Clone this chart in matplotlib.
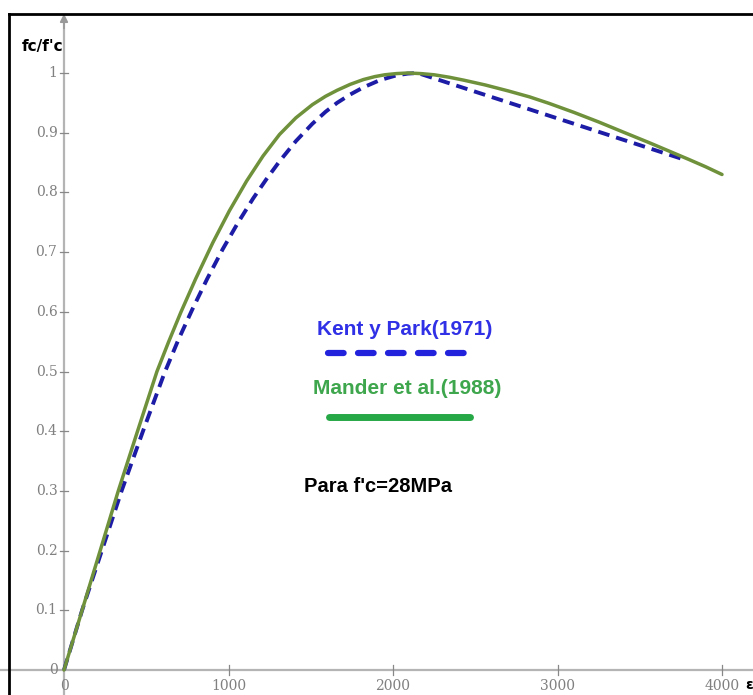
import matplotlib
matplotlib.use("Agg")
import matplotlib.pyplot as plt
from matplotlib.lines import Line2D

# Kent y Park (1971) (microstrain, fc/f'c)
kp_strain = [0, 110, 230, 350, 480, 610, 695, 780, 870, 965, 1055, 1150, 1230, 1310, 1410,
             1510, 1590, 1660, 1740, 1820, 1920, 2020, 2090, 2150, 3770]
kp_stress = [0, 0.10, 0.20, 0.30, 0.40, 0.497, 0.553, 0.604, 0.655, 0.705, 0.748, 0.790, 0.822, 0.852, 0.886,
             0.915, 0.935, 0.950, 0.964, 0.976, 0.988, 0.996, 0.999, 1.0, 0.855]

# Mander et al. (1988)
md_strain = [0, 110, 220, 330, 447, 565, 635, 710, 800, 905, 1005, 1110, 1210, 1310, 1410,
             1510, 1590, 1660, 1740, 1820, 1890, 1950, 2020, 2090, 2170, 2250, 2340, 2430,
             2560, 2700, 2830, 2950, 3100, 3250, 3400, 3560, 3680, 3800, 3900, 4000]
md_stress = [0, 0.10, 0.20, 0.30, 0.40, 0.50, 0.549, 0.599, 0.655, 0.716, 0.769, 0.819, 0.861, 0.897, 0.925,
             0.947, 0.961, 0.971, 0.981, 0.989, 0.994, 0.997, 0.999, 1.0, 0.999, 0.997, 0.993, 0.988,
             0.980, 0.970, 0.960, 0.949, 0.934, 0.918, 0.901, 0.883, 0.869, 0.855, 0.843, 0.830]

x_ticks = [1000, 2000, 3000, 4000]
y_ticks = [0.1, 0.2, 0.3, 0.4, 0.5, 0.6, 0.7, 0.8, 0.9, 1]

W, H = 753, 695
fig = plt.figure(figsize=(W / 100, H / 100), dpi=100)
ax = fig.add_axes([0, 0, 1, 1])
ax.set_xlim(-64 / 164.5 * 1000, (W - 64) / 164.5 * 1000)
ax.set_ylim(-(H - 670) / 597, 670 / 597)
ax.axis("off")

axis_col = "#b4b4b4"
tick_col = "#808080"

# axes lines
ax.axhline(0, color=axis_col, lw=1.6, zorder=1)
ax.plot([0, 0], [-0.05, 1.085], color=axis_col, lw=1.6, zorder=1)
ax.annotate("", xy=(0, 1.104), xytext=(0, 1.07),
            arrowprops=dict(arrowstyle="-|>", color="#999999", lw=1.2, mutation_scale=12))

# tick crosses and labels
for t in x_ticks:
    ax.plot([t, t], [-0.008, 0.008], color="#888888", lw=0.9, zorder=1)
    ax.text(t, -0.026, f"{t}", ha="center", va="center", color=tick_col,
            fontsize=10, family="DejaVu Serif")
for t in y_ticks:
    ax.plot([-25, 25], [t, t], color="#888888", lw=0.9, zorder=1)
    ax.text(-40, t, f"{t:g}", ha="right", va="center", color=tick_col,
            fontsize=10, family="DejaVu Serif")
ax.text(-40, 0.0, "0", ha="right", va="center", color=tick_col, fontsize=10, family="DejaVu Serif")
ax.text(0, -0.026, "0", ha="center", va="center", color=tick_col, fontsize=10, family="DejaVu Serif")

ax.text(-255, 1.045, "fc/f'c", ha="left", va="center", fontsize=11, fontweight="bold",
        family="DejaVu Sans")
fig.text(1.0, 1 - 685 / H, "ε", ha="right", va="center", fontsize=10, fontweight="bold", color="black")

# curves
ax.plot(kp_strain, kp_stress, color="#1c1ca6", lw=2.8, ls=(0, (3, 1.8)), zorder=3)
ax.plot(md_strain, md_stress, color="#6f913b", lw=2.5, zorder=4, solid_capstyle="round")

# legend drawn by hand, as in the original
fig.text(405 / W, 1 - 330 / H, "Kent y Park(1971)", ha="center", va="center",
         color="#3030e6", fontsize=15, fontweight="bold", family="Liberation Sans")
fig.add_artist(Line2D([328 / W, 469 / W], [1 - 353 / H] * 2, color="#2222dd", lw=4.5,
                      ls=(0, (2.5, 2.3)), dash_capstyle="round"))
fig.text(407 / W, 1 - 388 / H, "Mander et al.(1988)", ha="center", va="center",
         color="#3ea64c", fontsize=15, fontweight="bold", family="Liberation Sans")
fig.add_artist(Line2D([329 / W, 470 / W], [1 - 417 / H] * 2, color="#27a846", lw=5,
                      solid_capstyle="round"))
fig.text(378 / W, 1 - 487 / H, "Para f'c=28MPa", ha="center", va="center",
         color="black", fontsize=14.5, fontweight="bold", family="Liberation Sans")

# black frame (top and left)
fig.add_artist(Line2D([9 / W, 1], [1 - 14 / H] * 2, color="black", lw=2))
fig.add_artist(Line2D([9 / W, 9 / W], [0, 1 - 14 / H], color="black", lw=2))

fig.savefig("out.png", dpi=100)
